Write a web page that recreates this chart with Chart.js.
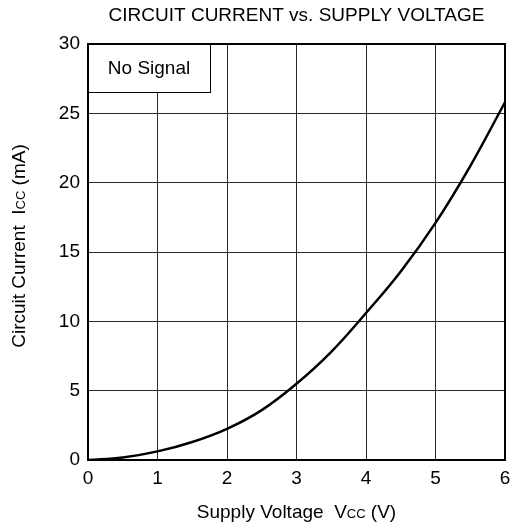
<!DOCTYPE html>
<html>
<head>
<meta charset="utf-8">
<script src="https://cdn.jsdelivr.net/npm/chart.js@4.4.0/dist/chart.umd.min.js"></script>
<style>
  html, body { margin: 0; padding: 0; background: #fff; }
</style>
</head>
<body>
<canvas id="myChart" width="511" height="527"></canvas>
<script>
// data
const voltage = [0, 0.5, 1, 1.5, 2, 2.5, 3, 3.5, 4, 4.5, 5, 5.5, 6];
const current = [0, 0.18, 0.62, 1.3, 2.25, 3.6, 5.5, 7.8, 10.6, 13.6, 17.1, 21.2, 25.8];
const xTicks = [0, 1, 2, 3, 4, 5, 6];
const yTicks = [0, 5, 10, 15, 20, 25, 30];

const chartTitle = 'CIRCUIT CURRENT vs. SUPPLY VOLTAGE';
const xTitle = ['Supply Voltage  V', 'CC', ' (V)'];
const yTitle = ['Circuit Current  I', 'CC', ' (mA)'];
const boxLabel = 'No Signal';

const FONT = '"Liberation Sans", Arial, sans-serif';
const SIZE = 19;

// draws text with a smaller "CC" part, centred on (x, y)
function drawSubText(ctx, parts, x, y) {
    const sizes = [SIZE, 13, SIZE];
    let widths = parts.map((p, i) => {
        ctx.font = sizes[i] + 'px ' + FONT;
        return ctx.measureText(p).width;
    });
    let total = widths.reduce((a, b) => a + b, 0);
    let cx = x - total / 2;
    ctx.textAlign = 'left';
    ctx.textBaseline = 'alphabetic';
    parts.forEach((p, i) => {
        ctx.font = sizes[i] + 'px ' + FONT;
        ctx.fillText(p, cx, y + 7);
        cx += widths[i];
    });
}

const extras = {
    id: 'extras',
    afterDatasetsDraw(chart) {
        const { ctx, chartArea: ca } = chart;
        ctx.save();
        // "No Signal" box
        ctx.fillStyle = '#fff';
        ctx.fillRect(ca.left, ca.top, 123, 48);
        ctx.strokeStyle = '#000';
        ctx.lineWidth = 1;
        ctx.strokeRect(ca.left, ca.top + 0.5, 122.5, 48);
        ctx.fillStyle = '#000';
        ctx.font = SIZE + 'px ' + FONT;
        ctx.textAlign = 'center';
        ctx.textBaseline = 'middle';
        ctx.fillText(boxLabel, ca.left + 61, ca.top + 25);

        // frame
        ctx.lineWidth = 2;
        ctx.strokeRect(ca.left, ca.top, ca.right - ca.left, ca.bottom - ca.top);

        // title
        drawSubText(ctx, [chartTitle, '', ''], (ca.left + ca.right) / 2, 13.5);

        // axis titles
        drawSubText(ctx, xTitle, (ca.left + ca.right) / 2, 510.5);
        ctx.translate(18, 246);
        ctx.rotate(-Math.PI / 2);
        drawSubText(ctx, yTitle, 0, 0);
        ctx.restore();
    }
};

const ctx = document.getElementById('myChart');

const config = {
    type: 'line',
    data: {
        datasets: [{
            label: 'Icc',
            data: voltage.map((v, i) => ({ x: v, y: current[i] })),
            borderColor: '#000',
            borderWidth: 2.5,
            pointRadius: 0,
            tension: 0.4,
            fill: false
        }]
    },
    options: {
        responsive: false,
        animation: false,
        layout: { padding: { top: 44, right: 6, left: 0, bottom: 0 } },
        plugins: {
            legend: { display: false },
            tooltip: { enabled: false },
            title: { display: false }
        },
        scales: {
            x: {
                type: 'linear',
                min: 0,
                max: 6,
                afterBuildTicks: s => { s.ticks = xTicks.map(v => ({ value: v })); },
                afterFit: s => { s.height = 67; s.paddingRight = 0; s.paddingLeft = 0; },
                grid: { color: '#2a2a2a', lineWidth: 1, drawTicks: false },
                border: { color: '#000', width: 2 },
                ticks: { color: '#000', padding: 7, font: { family: FONT, size: SIZE } }
            },
            y: {
                type: 'linear',
                min: 0,
                max: 30,
                afterBuildTicks: s => { s.ticks = yTicks.map(v => ({ value: v })); },
                afterFit: s => { s.width = 88; s.paddingTop = 0; s.paddingBottom = 0; },
                grid: { color: '#2a2a2a', lineWidth: 1, drawTicks: false },
                border: { color: '#000', width: 2 },
                ticks: { color: '#000', padding: 8, font: { family: FONT, size: SIZE } }
            }
        }
    },
    plugins: [extras]
};

const chart = new Chart(ctx, config);
</script>
</body>
</html>
